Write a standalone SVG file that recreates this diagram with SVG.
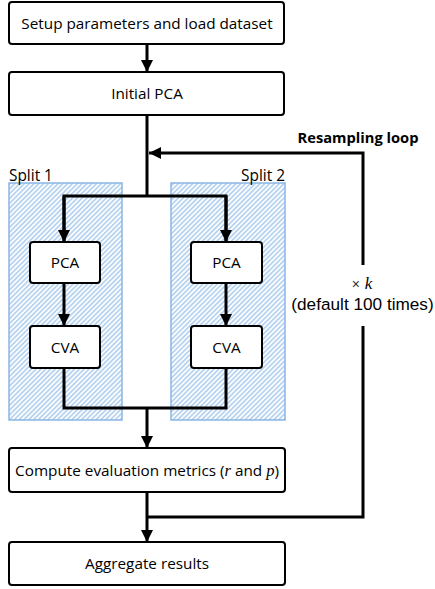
<svg xmlns="http://www.w3.org/2000/svg" width="435" height="589" viewBox="0 0 435 589">
  <style>
    .box { fill: #ffffff; stroke: #000000; stroke-width: 2; }
    .lbl { font-family: "Open Sans", "Liberation Sans", sans-serif; font-size: 15.3px; fill: #000; text-anchor: middle; }
    .grp { font-family: "Open Sans", "Liberation Sans", sans-serif; font-size: 15.4px; fill: #000; }
    .split { fill: url(#hatch); stroke: #8ab6e4; stroke-width: 1.5; }
    .wire { fill: none; stroke: #000000; stroke-width: 3; }
    .math { font-family: "Liberation Serif", serif; font-style: italic; }
  </style>
  <defs>
    <pattern id="hatch" patternUnits="userSpaceOnUse" width="3.4" height="3.4" patternTransform="rotate(45)">
      <rect width="3.4" height="3.4" fill="#ffffff"/>
      <line x1="0.9" y1="0" x2="0.9" y2="3.4" stroke="#b8d3ef" stroke-width="1.8"/>
    </pattern>
    <marker id="arrow" markerUnits="userSpaceOnUse" markerWidth="13" markerHeight="13" refX="12" refY="6" orient="auto">
      <path d="M0,0 L12,6 L0,12 Z" fill="#000"/>
    </marker>
  </defs>

  <!-- split regions -->
  <g id="split1">
    <rect class="split" x="9" y="183" width="113" height="237"/>
    <text class="grp" x="9" y="181">Split 1</text>
  </g>
  <g id="split2">
    <rect class="split" x="171" y="183" width="114" height="237"/>
    <text class="grp" x="285" y="181" text-anchor="end">Split 2</text>
  </g>

  <!-- connectors -->
  <g id="connectors">
    <line class="wire" x1="147" y1="44" x2="147" y2="72" marker-end="url(#arrow)"/>
    <line class="wire" x1="147" y1="115" x2="147" y2="196"/>
    <polyline class="wire" points="64,242 64,196 226,196 226,242"/>
    <line class="wire" x1="64" y1="196" x2="64" y2="242" marker-end="url(#arrow)"/>
    <line class="wire" x1="226" y1="196" x2="226" y2="242" marker-end="url(#arrow)"/>
    <line class="wire" x1="64" y1="283" x2="64" y2="326" marker-end="url(#arrow)"/>
    <line class="wire" x1="226" y1="283" x2="226" y2="326" marker-end="url(#arrow)"/>
    <polyline class="wire" points="64,368 64,408 226,408 226,368"/>
    <line class="wire" x1="147" y1="408" x2="147" y2="448" marker-end="url(#arrow)"/>
    <line class="wire" x1="147" y1="492" x2="147" y2="542" marker-end="url(#arrow)"/>
    <!-- resampling loop back-edge -->
    <polyline class="wire" points="147,517 363,517 363,326"/>
    <polyline class="wire" points="363,265 363,153 149,153" marker-end="url(#arrow)"/>
    <text x="358" y="143" font-family="Open Sans, Liberation Sans, sans-serif" font-size="14.7" font-weight="bold" text-anchor="middle">Resampling loop</text>
    <text x="362" y="289" font-family="Liberation Sans, sans-serif" font-size="17" text-anchor="middle"><tspan font-size="14" fill="#333">×</tspan> <tspan class="math">k</tspan></text>
    <text x="362.5" y="310" font-family="Liberation Sans, sans-serif" font-size="17.2" text-anchor="middle">(default 100 times)</text>
  </g>

  <!-- nodes -->
  <g id="setup">
    <rect class="box" x="9" y="2" width="275" height="42" rx="3"/>
    <text class="lbl" x="147" y="28.5">Setup parameters and load dataset</text>
  </g>
  <g id="initial-pca">
    <rect class="box" x="9" y="72" width="275" height="43" rx="3"/>
    <text class="lbl" x="147" y="99">Initial PCA</text>
  </g>
  <g id="pca1">
    <rect class="box" x="30" y="242" width="70" height="41" rx="3"/>
    <text class="lbl" x="65" y="268">PCA</text>
  </g>
  <g id="pca2">
    <rect class="box" x="191" y="242" width="71" height="41" rx="3"/>
    <text class="lbl" x="226.5" y="268">PCA</text>
  </g>
  <g id="cva1">
    <rect class="box" x="30" y="326" width="70" height="42" rx="3"/>
    <text class="lbl" x="65" y="352.5">CVA</text>
  </g>
  <g id="cva2">
    <rect class="box" x="191" y="326" width="71" height="42" rx="3"/>
    <text class="lbl" x="226.5" y="352.5">CVA</text>
  </g>
  <g id="metrics">
    <rect class="box" x="9" y="448" width="276" height="44" rx="3"/>
    <text class="lbl" x="147" y="475.5">Compute evaluation metrics (<tspan class="math" font-size="16.5">r</tspan> and <tspan class="math" font-size="16.5">p</tspan>)</text>
  </g>
  <g id="aggregate">
    <rect class="box" x="9" y="542" width="276" height="43" rx="3"/>
    <text class="lbl" x="147" y="569">Aggregate results</text>
  </g>
</svg>
